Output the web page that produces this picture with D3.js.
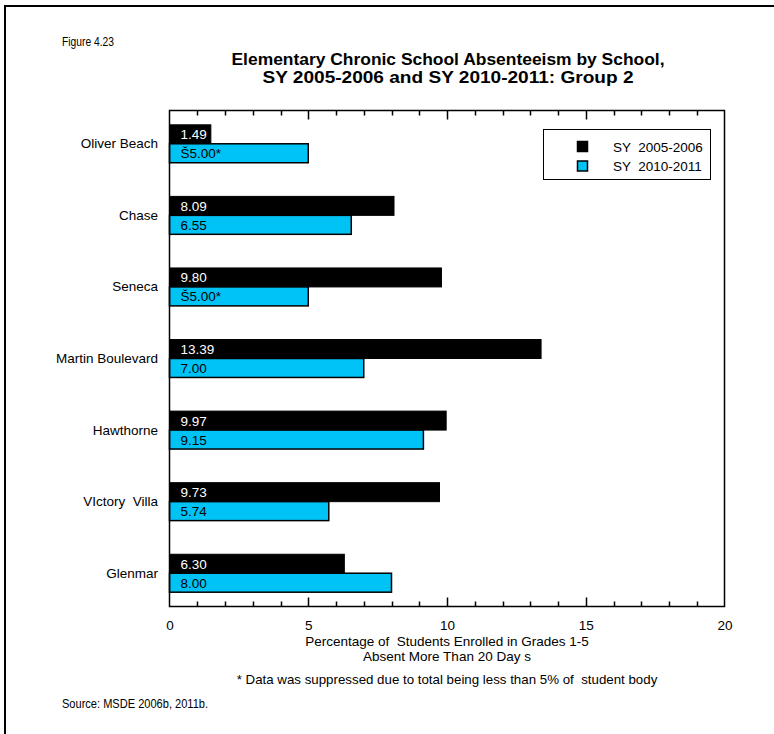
<!DOCTYPE html>
<html><head><meta charset="utf-8">
<script src="https://cdn.jsdelivr.net/npm/d3@7"></script>
<style>body{margin:0;background:#fff}svg{display:block;font-family:"Liberation Sans",Arial,sans-serif}</style>
</head><body>
<script>
const categories = ["Oliver Beach","Chase","Seneca","Martin Boulevard","Hawthorne","VIctory  Villa","Glenmar"];
const seriesNames = ["SY  2005-2006","SY  2010-2011"];
const values2006 = [1.49, 8.09, 9.80, 13.39, 9.97, 9.73, 6.30];
const values2011 = [5.00, 6.55, 5.00, 7.00, 9.15, 5.74, 8.00];
const labels2006 = ["1.49","8.09","9.80","13.39","9.97","9.73","6.30"];
const labels2011 = ["Š5.00*","6.55","Š5.00*","7.00","9.15","5.74","8.00"];
const xTicks = [0,5,10,15,20];
const minorTicks = [1,2,3,4,5,6,7,8,9,10,11,12,13,14,15,16,17,18,19];
const colors = ["#000000","#00C3F5"];

const W=774,H=734;
const svg=d3.select("body").append("svg").attr("width",W).attr("height",H);
svg.append("rect").attr("width",W).attr("height",H).attr("fill","#fff");
svg.append("line").attr("x1",5).attr("x2",W).attr("y1",6).attr("y2",6).attr("stroke","#000").attr("stroke-width",2);
svg.append("line").attr("x1",5).attr("x2",5).attr("y1",5).attr("y2",H).attr("stroke","#000").attr("stroke-width",2);

const L=169.5,R=724.5,T=110.5,B=606.5;
const xs=d3.scaleLinear().domain([0,20]).range([L,R]);
const ys=d3.scaleBand().domain(categories).range([T,B]).paddingInner(0.47).paddingOuter(0.2);

svg.append("text").attr("x",62).attr("y",46).attr("font-size",12).attr("textLength",52).attr("lengthAdjust","spacingAndGlyphs").text("Figure 4.23");
svg.append("text").attr("x",448).attr("y",65).attr("text-anchor","middle").attr("font-size",16).attr("font-weight","bold").attr("textLength",433).attr("lengthAdjust","spacingAndGlyphs").text("Elementary Chronic School Absenteeism by School,");
svg.append("text").attr("x",448).attr("y",83).attr("text-anchor","middle").attr("font-size",16).attr("font-weight","bold").attr("textLength",371).attr("lengthAdjust","spacingAndGlyphs").text("SY 2005-2006 and SY 2010-2011: Group 2");

const sub=ys.bandwidth()/2;
categories.forEach((c,i)=>{
  const y0=ys(c);
  svg.append("rect").attr("x",xs(0)).attr("y",y0).attr("width",xs(values2006[i])-xs(0)).attr("height",sub).attr("fill",colors[0]).attr("stroke","#000").attr("stroke-width",1);
  svg.append("rect").attr("x",xs(0)).attr("y",y0+sub).attr("width",xs(values2011[i])-xs(0)).attr("height",sub).attr("fill",colors[1]).attr("stroke","#000").attr("stroke-width",1.5);
  svg.append("text").attr("x",xs(0)+11).attr("y",y0+sub/2+5).attr("font-size",13.5).attr("fill","#fff").text(labels2006[i]);
  svg.append("text").attr("x",xs(0)+11).attr("y",y0+sub*1.5+5).attr("font-size",13.5).attr("fill","#000").text(labels2011[i]);
  svg.append("text").attr("x",158).attr("y",y0+sub+4.5).attr("text-anchor","end").attr("font-size",13.5).attr("style","white-space:pre").text(c);
});

// frame drawn as one path with inward tick excursions
let d=`M${L},${B}V${T}`;
minorTicks.forEach(v=>{ const xv=Math.round(xs(v))+0.5, len=v%5===0?9:5; d+=`H${xv}V${T+len}V${T}`; });
d+=`H${R}V${B}`;
[...minorTicks].reverse().forEach(v=>{ const xv=Math.round(xs(v))+0.5, len=v%5===0?9:5; d+=`H${xv}V${B-len}V${B}`; });
d+=`H${L}Z`;
svg.append("path").attr("d",d).attr("fill","none").attr("stroke","#000").attr("stroke-width",1.5).attr("stroke-linejoin","miter");

const lab=d3.axisBottom(xs).tickValues(xTicks).tickSize(0).tickPadding(14).tickFormat(d3.format("d"));
const gl=svg.append("g").attr("transform",`translate(0,${B})`).call(lab);
gl.select(".domain").remove();
gl.selectAll("text").attr("font-size",13.5).attr("font-family","Liberation Sans, Arial, sans-serif").attr("fill","#000");

svg.append("text").attr("x",447).attr("y",646).attr("text-anchor","middle").attr("font-size",13.5).attr("style","white-space:pre").text("Percentage of  Students Enrolled in Grades 1-5");
svg.append("text").attr("x",447).attr("y",661).attr("text-anchor","middle").attr("font-size",13.5).attr("style","white-space:pre").text("Absent More Than 20 Day s");
svg.append("text").attr("x",447).attr("y",684).attr("text-anchor","middle").attr("font-size",13.3).attr("style","white-space:pre").text("* Data was suppressed due to total being less than 5% of  student body");
svg.append("text").attr("x",62).attr("y",708).attr("font-size",12).attr("textLength",146).attr("lengthAdjust","spacingAndGlyphs").text("Source: MSDE 2006b, 2011b.");

const lg=svg.append("g");
lg.append("rect").attr("x",543.5).attr("y",129.5).attr("width",167).attr("height",50).attr("fill","#fff").attr("stroke","#000").attr("stroke-width",1);
seriesNames.forEach((s,i)=>{
  lg.append("rect").attr("x",577.5).attr("y",141.5+i*19.5).attr("width",10).attr("height",10).attr("fill",colors[i]).attr("stroke","#000").attr("stroke-width",1.5);
  lg.append("text").attr("x",613).attr("y",151.5+i*19.5).attr("font-size",13.5).attr("style","white-space:pre").text(s);
});
</script>
</body></html>
